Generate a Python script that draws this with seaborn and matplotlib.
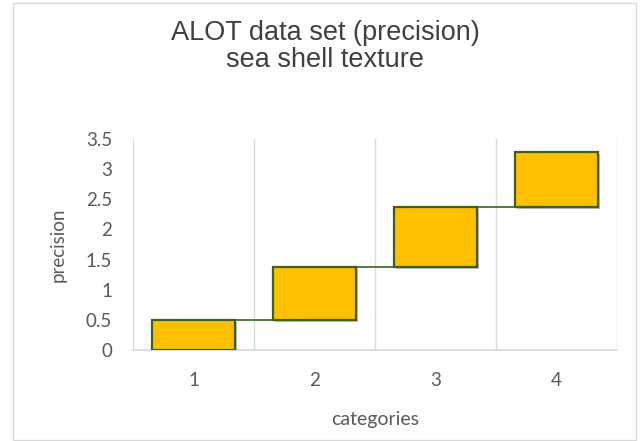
import matplotlib
matplotlib.use("Agg")
import matplotlib.pyplot as plt
import matplotlib.patheffects as pe
from matplotlib.patches import Rectangle
import numpy as np
import pandas as pd
import seaborn as sns

# waterfall data
categories = ["1", "2", "3", "4"]
increments = [0.5, 0.88, 1.0, 0.9]
y_ticks = [0, 0.5, 1, 1.5, 2, 2.5, 3, 3.5]

starts = np.concatenate([[0], np.cumsum(increments)[:-1]])
ends = np.cumsum(increments)
df = pd.DataFrame({"category": categories, "increment": increments, "start": starts})

sns.set_theme(style="white")
plt.rcParams["font.family"] = ["Lato", "DejaVu Sans"]
gray = "#595959"
fill = "#FFC000"
edge = "#3F5F1F"

fig = plt.figure(figsize=(6.41, 4.41), dpi=100)
ax = fig.add_axes([0.2075, 0.2063, 0.7551, 0.4785])

sns.barplot(data=df, x="category", y="increment", order=categories,
            bottom=df["start"].values, color=fill, edgecolor=edge, linewidth=1.6,
            width=0.68, saturation=1, errorbar=None, ax=ax, zorder=3)

shadow = [pe.SimplePatchShadow(offset=(1.5, -1.5), shadow_rgbFace="black", alpha=0.25), pe.Normal()]
bars = ax.patches
for b in bars:
    b.set_path_effects(shadow)

# connector lines between bars
for i in range(len(bars) - 1):
    x0 = bars[i].get_x() + bars[i].get_width()
    x1 = bars[i + 1].get_x()
    ax.plot([x0, x1], [ends[i], ends[i]], color=edge, lw=1.2, zorder=2)

ax.set_xlim(-0.5, len(categories) - 0.5)
ax.set_ylim(0, 3.5)
ax.set_yticks(y_ticks)
ax.set_yticklabels([f"{t:g}" for t in y_ticks])
ax.set_xticks(np.arange(-0.5, len(categories)), minor=True)
ax.grid(True, which="minor", axis="x", color="#d9d9d9", lw=1)
ax.grid(False, which="major")
for s in ["top", "right", "left"]:
    ax.spines[s].set_visible(False)
ax.spines["bottom"].set_color("#d9d9d9")
ax.tick_params(axis="both", which="both", length=0, labelsize=13.5, colors=gray)
ax.tick_params(axis="y", pad=15)
ax.tick_params(axis="x", pad=16)

ax.set_xlabel("categories", fontsize=14, color=gray, labelpad=16)
ax.set_ylabel("precision", fontsize=13.5, color=gray, labelpad=14)

fig.text(0.507, 0.894, "ALOT data set (precision)\nsea shell texture", ha="center", va="center",
         fontsize=19.5, color="#404040", family=["Liberation Sans"], linespacing=1.05)

fig.patches.append(Rectangle((13 / 641, 1 / 441), 623 / 641, 437 / 441, transform=fig.transFigure,
                             fill=False, edgecolor="#d9d9d9", lw=1))

fig.savefig("out.png", dpi=100)
